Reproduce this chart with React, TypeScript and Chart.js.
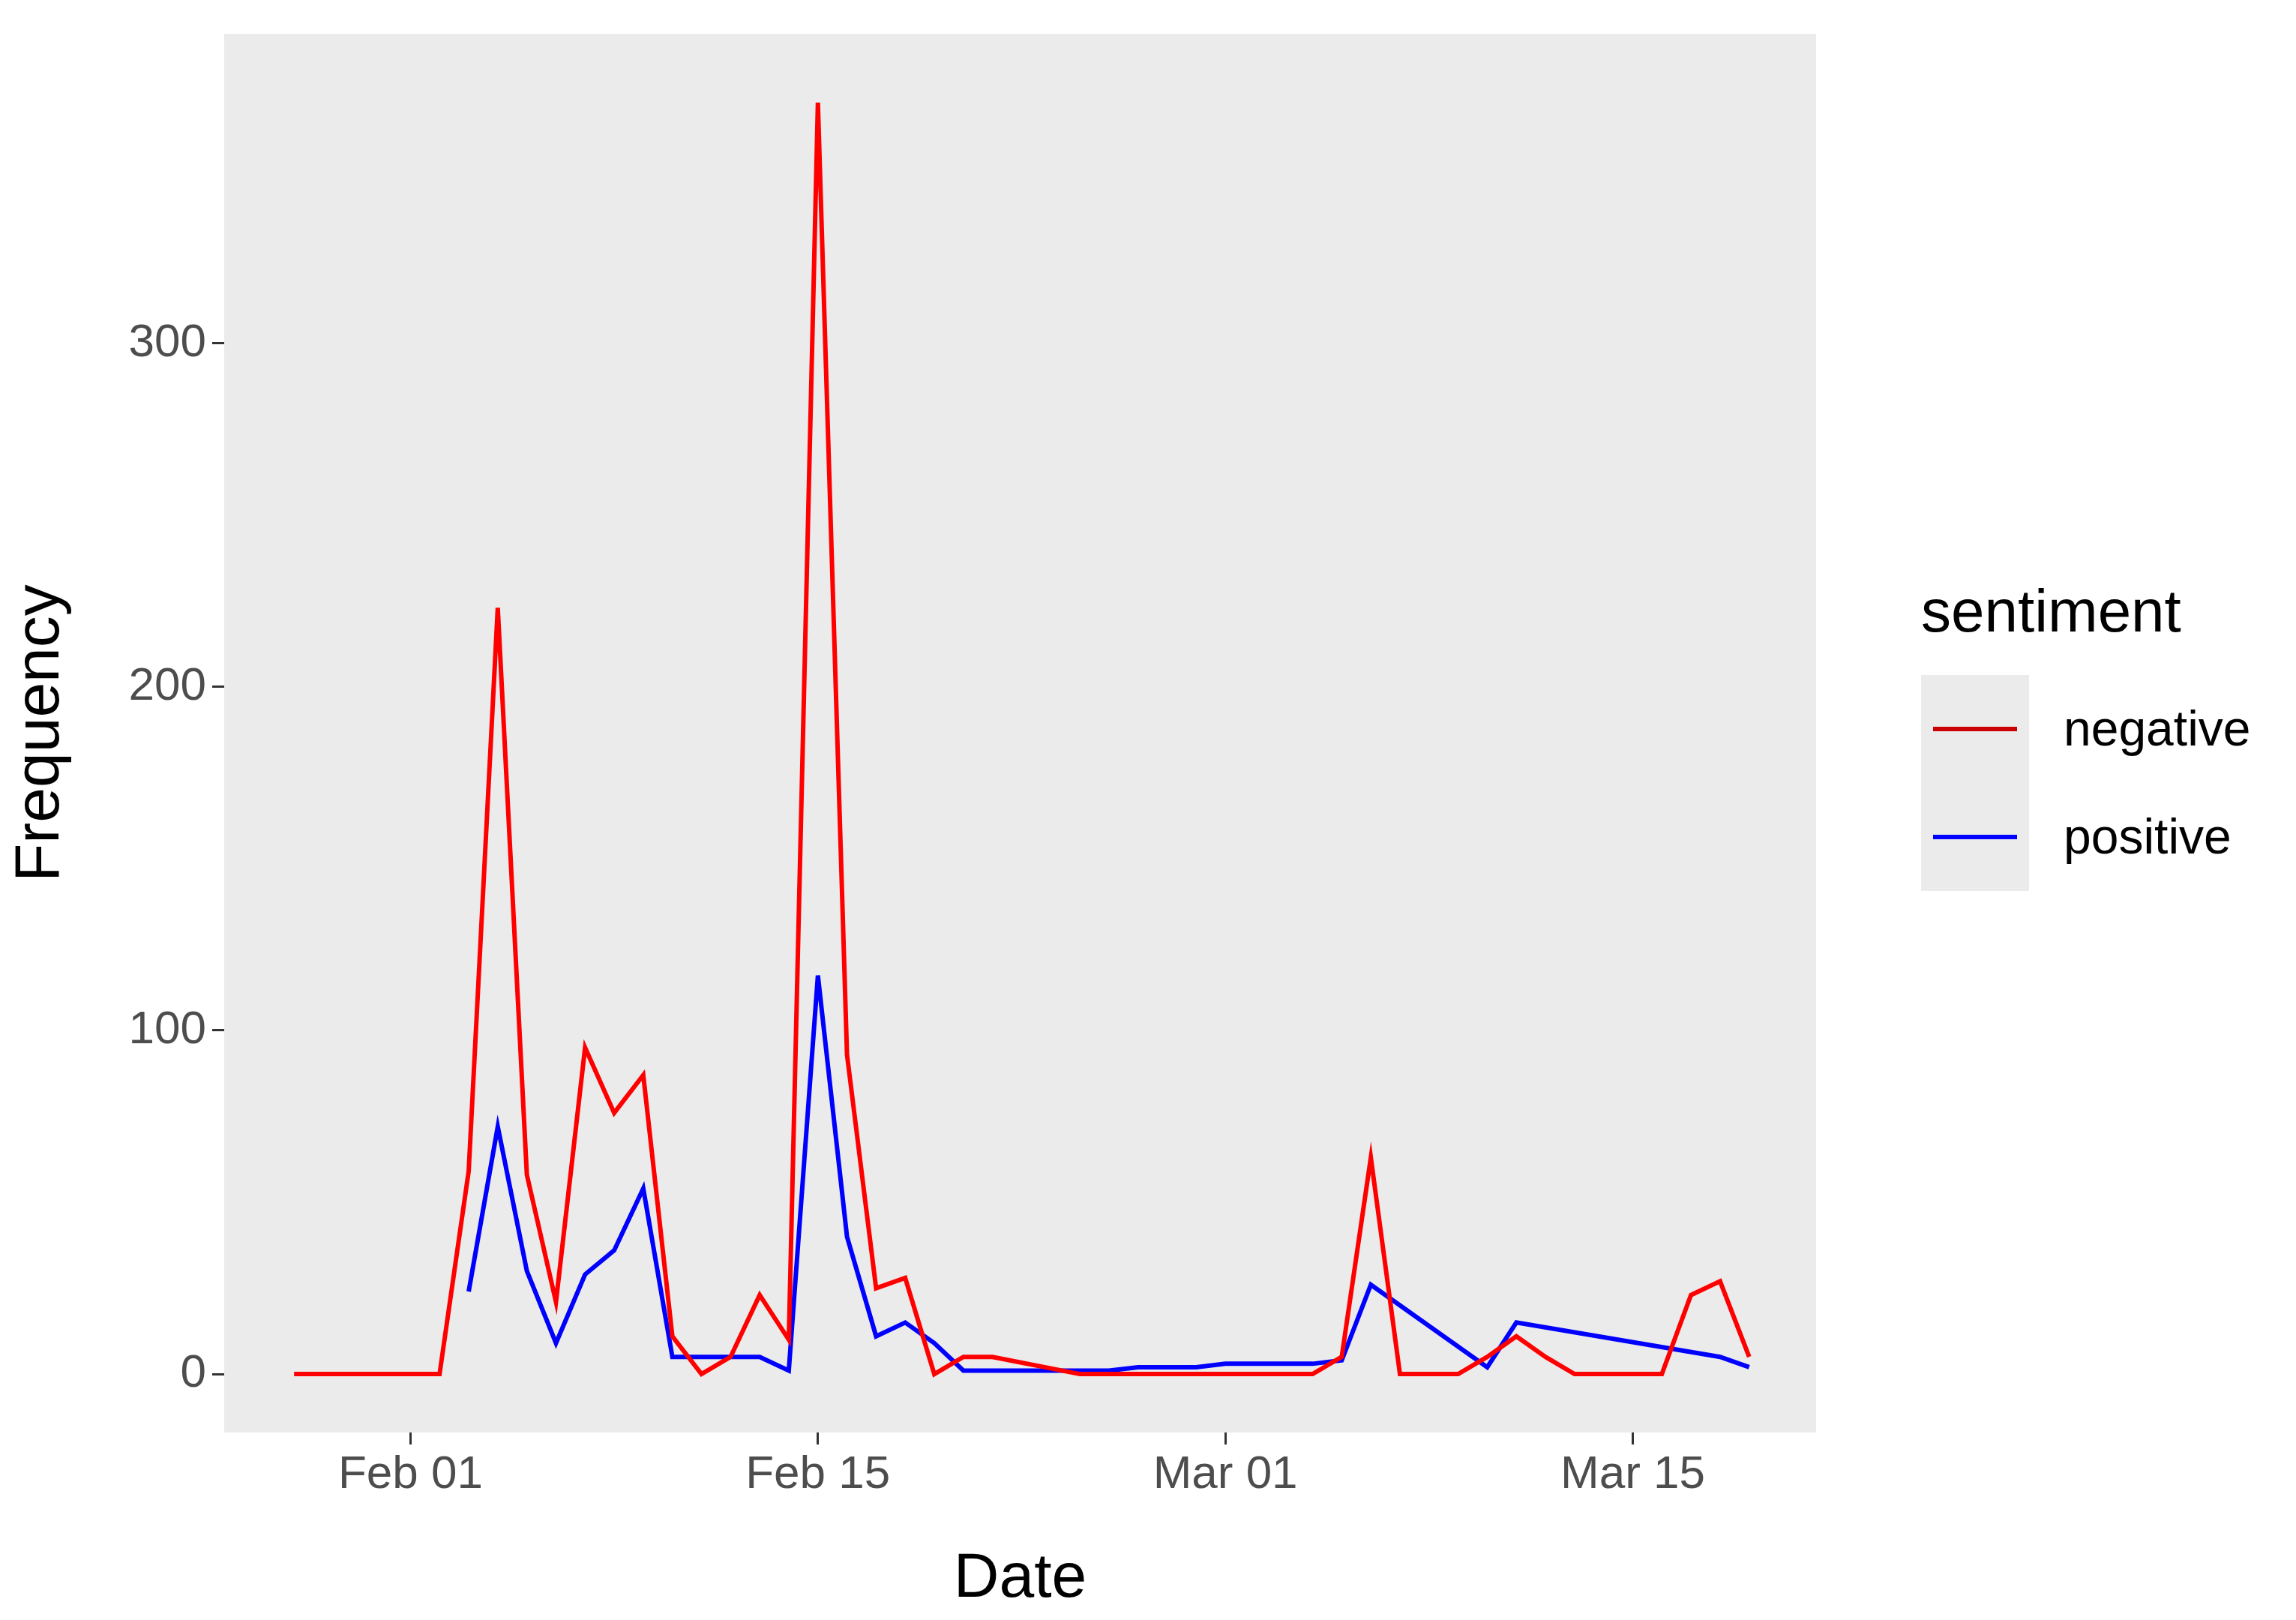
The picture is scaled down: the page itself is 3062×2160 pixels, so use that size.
import React, { useEffect, useRef } from "react";
import { Chart, registerables } from "chart.js";
Chart.register(...registerables);

// days since Feb 01
const negDays = [-4,-3,-2,-1,0,1,2,3,4,5,6,7,8,9,10,11,12,13,14,15,16,17,18,19,20,23,24,25,26,27,28,29,30,31,32,33,34,35,36,37,38,39,40,41,42,43,44,45,46];
const negValues = [0,0,0,0,0,0,59,223,58,21,95,76,87,11,0,5,23,10,370,93,25,28,0,5,5,0,0,0,0,0,0,0,0,0,5,63,0,0,0,5,11,5,0,0,0,0,23,27,5];
const posDays = [2,3,4,5,6,7,8,9,10,11,12,13,14,15,16,17,18,19,20,23,24,25,26,27,28,29,30,31,32,33,37,38,45,46];
const posValues = [24,72,30,9,29,36,54,5,5,5,5,1,116,40,11,15,9,1,1,1,1,2,2,2,3,3,3,3,4,26,2,15,5,2];
const tickDays = [0,14,28,42];
const tickLabels = ["Feb 01","Feb 15","Mar 01","Mar 15"];
const yTicks = [0,100,200,300];

export default function App() {
  const ref = useRef<HTMLCanvasElement>(null);
  useEffect(() => {
    const legendPlugin = {
      id: "lg",
      afterDraw(c: any) {
        const ctx = c.ctx;
        ctx.save();
        ctx.fillStyle = "#000";
        ctx.font = "80px Arial, 'Liberation Sans'";
        ctx.textBaseline = "middle";
        ctx.fillText("sentiment", 2562, 820);
        ctx.fillStyle = "#EBEBEB";
        ctx.fillRect(2562, 900, 144, 288);
        const items = [["negative", "#CC0000"], ["positive", "#0000FF"]];
        items.forEach(([t, col], i) => {
          const y = 972 + i * 144;
          ctx.strokeStyle = col; ctx.lineWidth = 6;
          ctx.beginPath(); ctx.moveTo(2578, y); ctx.lineTo(2690, y); ctx.stroke();
          ctx.fillStyle = "#000"; ctx.font = "66px Arial, 'Liberation Sans'";
          ctx.fillText(t, 2752, y + 4);
        });
        ctx.restore();
      },
    };
    const bg = {
      id: "bg",
      beforeDraw(c: any) {
        const a = c.chartArea;
        c.ctx.save();
        c.ctx.fillStyle = "#EBEBEB";
        c.ctx.fillRect(a.left, a.top, a.right - a.left, a.bottom - a.top);
        c.ctx.restore();
      },
    };
    const chart = new Chart(ref.current!, {
      type: "line",
      data: {
        datasets: [
          { label: "negative", data: negDays.map((d, i) => ({ x: d, y: negValues[i] })), borderColor: "#FF0000", borderWidth: 6, pointRadius: 0, tension: 0 },
          { label: "positive", data: posDays.map((d, i) => ({ x: d, y: posValues[i] })), borderColor: "#0000FF", borderWidth: 6, pointRadius: 0, tension: 0 },
        ],
      },
      options: {
        animation: false,
        responsive: false,
        layout: { padding: { top: 35, right: 640, left: 0, bottom: 0 } },
        plugins: { legend: { display: false }, tooltip: { enabled: false } },
        scales: {
          x: {
            type: "linear", min: -6.4, max: 48.3,
            afterBuildTicks: (s: any) => { s.ticks = tickDays.map((v) => ({ value: v })); },
            afterFit: (s: any) => { s.height = 250; },
            ticks: { callback: (v: any) => tickLabels[tickDays.indexOf(v)] ?? "", color: "#4D4D4D", font: { size: 62, family: "Arial, 'Liberation Sans'" }, padding: 4, maxRotation: 0 },
            grid: { drawOnChartArea: false, color: "#333", tickLength: 16, lineWidth: 3 },
            border: { display: false },
            title: { display: true, text: "Date", color: "#000", font: { size: 84, family: "Arial, 'Liberation Sans'" }, padding: { top: 0 } },
          },
          y: {
            min: -17, max: 390,
            afterBuildTicks: (s: any) => { s.ticks = yTicks.map((v) => ({ value: v })); },
            afterFit: (s: any) => { s.width = 299; },
            ticks: { color: "#4D4D4D", font: { size: 62, family: "Arial, 'Liberation Sans'" }, padding: 8 },
            grid: { drawOnChartArea: false, color: "#333", tickLength: 16, lineWidth: 3 },
            border: { display: false },
            title: { display: true, text: "Frequency", color: "#000", font: { size: 84, family: "Arial, 'Liberation Sans'" }, padding: { bottom: 10 } },
          },
        },
      },
      plugins: [bg, legendPlugin],
    });
    return () => chart.destroy();
  }, []);
  return (
    <div style={{ position: "fixed", left: 0, top: 0, width: 3062, height: 2160, background: "#fff" }}>
      <canvas ref={ref} width={3062} height={2160} style={{ width: 3062, height: 2160 }} />
    </div>
  );
}
